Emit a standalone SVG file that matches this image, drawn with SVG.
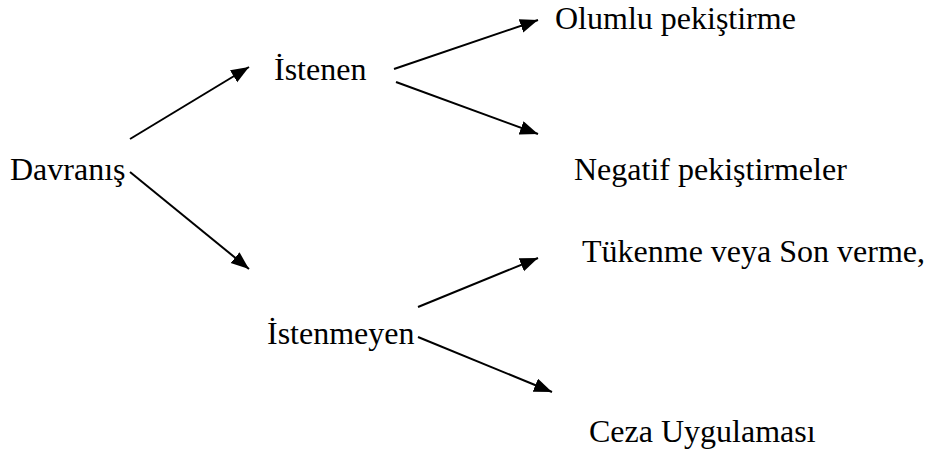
<svg xmlns="http://www.w3.org/2000/svg" width="925" height="454" viewBox="0 0 925 454">
<defs>
<marker id="ah" markerUnits="userSpaceOnUse" markerWidth="19" markerHeight="15" refX="18" refY="7" orient="auto">
<path d="M0,0 L18,7 L0,14 z" fill="#000"/>
</marker>
<style>
.t{font-family:'Liberation Serif','Times New Roman','DejaVu Serif',serif;font-size:32px;fill:#000}
.c{stroke:#000;stroke-width:2;fill:none;marker-end:url(#ah)}
</style>
</defs>
<rect width="925" height="454" fill="#fff"/>
<g id="connectors">
<line class="c" x1="130" y1="139" x2="249" y2="67"/>
<line class="c" x1="130" y1="172" x2="249" y2="269"/>
<line class="c" x1="394" y1="69" x2="538" y2="20"/>
<line class="c" x1="396" y1="82" x2="538" y2="134"/>
<line class="c" x1="418" y1="307" x2="538" y2="258"/>
<line class="c" x1="418" y1="337" x2="552" y2="392"/>
</g>
<g id="davranis"><text class="t" x="10" y="180">Davranış</text></g>
<g id="istenen"><text class="t" x="274" y="80">İstenen</text></g>
<g id="olumlu"><text class="t" x="555" y="29">Olumlu pekiştirme</text></g>
<g id="negatif"><text class="t" x="574" y="180">Negatif pekiştirmeler</text></g>
<g id="istenmeyen"><text class="t" x="267" y="344">İstenmeyen</text></g>
<g id="tukenme"><text class="t" x="582" y="262">Tükenme veya Son verme,</text></g>
<g id="ceza"><text class="t" x="589" y="442">Ceza Uygulaması</text></g>
</svg>
